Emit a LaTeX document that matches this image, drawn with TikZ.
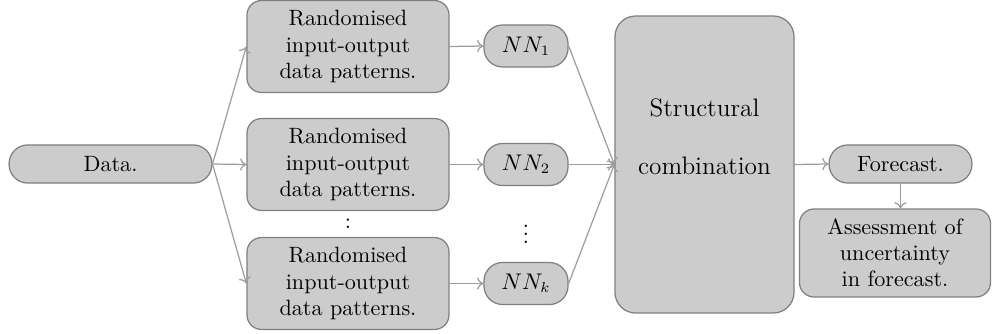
\documentclass[tikz,border=0pt]{standalone}
\usetikzlibrary{arrows.meta}
\begin{document}
\begin{tikzpicture}[x=0.4831pt,y=-0.4831pt,
  every node/.style={font=\fontsize{10.7pt}{12.6pt}\selectfont},
  box/.style={draw=black!50, fill=black!20, line width=0.6pt, align=center, inner sep=0pt},
  pill/.style={box, rounded corners=9pt},
  rbox/.style={box, rounded corners=7pt},
  conn/.style={draw=black!38, line width=0.6pt, -{To[length=3pt,width=6pt]}}]
\useasboundingbox (0,0) rectangle (992,333);
\node[pill, minimum width=98pt, minimum height=18.4pt] (data) at (110.5,164) {Data.};
\node[rbox, minimum width=97.6pt, minimum height=44.4pt] (r1) at (348,46.5) {Randomised\\input-output\\data patterns.};
\node[rbox, minimum width=97.6pt, minimum height=44.4pt] (r2) at (348,164.5) {Randomised\\input-output\\data patterns.};
\node[rbox, minimum width=97.6pt, minimum height=44.4pt] (r3) at (348,283.5) {Randomised\\input-output\\data patterns.};
\node[inner sep=0pt] (d1) at (348,224) {:};
\node[pill, minimum width=40.6pt, minimum height=20.3pt] (n1) at (526,46) {$NN_1$};
\node[pill, minimum width=40.6pt, minimum height=20.3pt] (n2) at (526,164.5) {$NN_2$};
\node[pill, minimum width=40.6pt, minimum height=20.3pt] (nk) at (526,283.5) {$NN_k$};
\node[inner sep=0pt] (d2) at (526,228) {$\vdots$};
\node[box, rounded corners=10pt, minimum width=86.5pt, minimum height=143.5pt] (sc) at (704.5,164.5) {};
\node[font=\fontsize{12.2pt}{14pt}\selectfont] (st) at (704.5,108) {Structural};
\node[font=\fontsize{12.2pt}{14pt}\selectfont] (cb) at (704.5,166) {combination};
\node[pill, minimum width=69pt, minimum height=18.4pt] (fc) at (900.5,164) {Forecast.};
\node[rbox, minimum width=92.3pt, minimum height=42.5pt] (as) at (895,253) {Assessment of\\uncertainty\\in forecast.};
\draw[conn] (data.east) -- (r1.west);
\draw[conn] (data.east) -- (r2.west);
\draw[conn] (data.east) -- (r3.west);
\draw[conn] (r1.east) -- (n1.west);
\draw[conn] (r2.east) -- (n2.west);
\draw[conn] (r3.east) -- (nk.west);
\draw[conn] (n1.east) -- (sc.west);
\draw[conn] (n2.east) -- (sc.west);
\draw[conn] (nk.east) -- (sc.west);
\draw[conn] (sc.east) -- (fc.west);
\draw[conn] (fc.south) -- (fc.south |- as.north);
\end{tikzpicture}
\end{document}
